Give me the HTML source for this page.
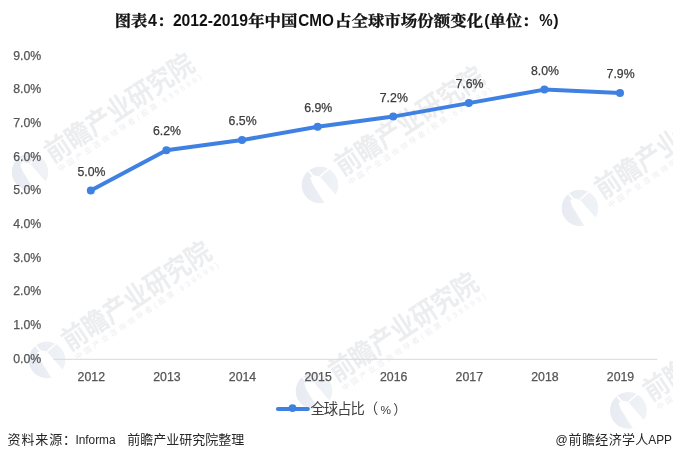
<!DOCTYPE html>
<html><head><meta charset="utf-8"><title>chart</title>
<style>
html,body{margin:0;padding:0;background:#fff;}
body{width:673px;height:460px;overflow:hidden;}
svg{display:block;}
text{font-family:"Liberation Sans","Noto Sans CJK SC",sans-serif;}
.ax{font-size:12.3px;fill:#555;stroke:#555;stroke-width:0.25px;}
.dl{font-size:12.3px;fill:#3c3c3c;stroke:#3c3c3c;stroke-width:0.25px;}
.wm{font-weight:500;fill:#ecedef;stroke:#ecedef;stroke-width:0.5px;font-size:27.5px;}
.wms{fill:#ededf0;font-size:7.5px;}
.tc{font-size:15px;font-weight:bold;fill:#111;stroke:#111;stroke-width:0.3px;font-family:"Liberation Sans","Noto Serif CJK SC",serif;}
.tl{font-size:16px;font-weight:bold;fill:#111;}
.ft{font-size:13px;fill:#262626;}
.fl{font-size:12px;fill:#262626;}
</style></head><body>
<svg width="673" height="460" viewBox="0 0 673 460">
<rect width="673" height="460" fill="#fff"/>
<defs>
<linearGradient id="lg" x1="0" y1="0" x2="1" y2="0"><stop offset="0" stop-color="#e7ebf2"/><stop offset="1" stop-color="#f0f3f6"/></linearGradient>
<clipPath id="lc"><circle cx="0" cy="0" r="18.5"/></clipPath>
</defs>

<g transform="translate(30,172)"><g clip-path="url(#lc)">
<circle cx="0" cy="0" r="18.5" fill="url(#lg)"/>
<polygon points="-11.9,-13.4 -10.5,-14.7 -6.2,-9.8 -0.5,-8.6 1,-7.2 14.8,8.8 24,14 10,26 4.3,17.7 -7.7,-1.4 -9.8,-7.7 -7.7,-8.6" fill="#fff"/>
<line x1="9.6" y1="-16.8" x2="0.2" y2="-8.6" stroke="#fff" stroke-width="1.5"/>
</g>
<g transform="rotate(-33.4)">
<text class="wm" x="23.8" y="5.4" textLength="172" lengthAdjust="spacingAndGlyphs">前瞻产业研究院</text>
<text class="wms" x="25.3" y="16.6" textLength="170" lengthAdjust="spacing">中国产业咨询领导者(股票:839599)</text>
</g></g>
<g transform="translate(320,185)"><g clip-path="url(#lc)">
<circle cx="0" cy="0" r="18.5" fill="url(#lg)"/>
<polygon points="-11.9,-13.4 -10.5,-14.7 -6.2,-9.8 -0.5,-8.6 1,-7.2 14.8,8.8 24,14 10,26 4.3,17.7 -7.7,-1.4 -9.8,-7.7 -7.7,-8.6" fill="#fff"/>
<line x1="9.6" y1="-16.8" x2="0.2" y2="-8.6" stroke="#fff" stroke-width="1.5"/>
</g>
<g transform="rotate(-33.4)">
<text class="wm" x="23.8" y="5.4" textLength="172" lengthAdjust="spacingAndGlyphs">前瞻产业研究院</text>
<text class="wms" x="25.3" y="16.6" textLength="170" lengthAdjust="spacing">中国产业咨询领导者(股票:839599)</text>
</g></g>
<g transform="translate(580,208)"><g clip-path="url(#lc)">
<circle cx="0" cy="0" r="18.5" fill="url(#lg)"/>
<polygon points="-11.9,-13.4 -10.5,-14.7 -6.2,-9.8 -0.5,-8.6 1,-7.2 14.8,8.8 24,14 10,26 4.3,17.7 -7.7,-1.4 -9.8,-7.7 -7.7,-8.6" fill="#fff"/>
<line x1="9.6" y1="-16.8" x2="0.2" y2="-8.6" stroke="#fff" stroke-width="1.5"/>
</g>
<g transform="rotate(-33.4)">
<text class="wm" x="23.8" y="5.4" textLength="172" lengthAdjust="spacingAndGlyphs">前瞻产业研究院</text>
<text class="wms" x="25.3" y="16.6" textLength="170" lengthAdjust="spacing">中国产业咨询领导者(股票:839599)</text>
</g></g>
<g transform="translate(47,360)"><g clip-path="url(#lc)">
<circle cx="0" cy="0" r="18.5" fill="url(#lg)"/>
<polygon points="-11.9,-13.4 -10.5,-14.7 -6.2,-9.8 -0.5,-8.6 1,-7.2 14.8,8.8 24,14 10,26 4.3,17.7 -7.7,-1.4 -9.8,-7.7 -7.7,-8.6" fill="#fff"/>
<line x1="9.6" y1="-16.8" x2="0.2" y2="-8.6" stroke="#fff" stroke-width="1.5"/>
</g>
<g transform="rotate(-33.4)">
<text class="wm" x="23.8" y="5.4" textLength="172" lengthAdjust="spacingAndGlyphs">前瞻产业研究院</text>
<text class="wms" x="25.3" y="16.6" textLength="170" lengthAdjust="spacing">中国产业咨询领导者(股票:839599)</text>
</g></g>
<g transform="translate(314,391)"><g clip-path="url(#lc)">
<circle cx="0" cy="0" r="18.5" fill="url(#lg)"/>
<polygon points="-11.9,-13.4 -10.5,-14.7 -6.2,-9.8 -0.5,-8.6 1,-7.2 14.8,8.8 24,14 10,26 4.3,17.7 -7.7,-1.4 -9.8,-7.7 -7.7,-8.6" fill="#fff"/>
<line x1="9.6" y1="-16.8" x2="0.2" y2="-8.6" stroke="#fff" stroke-width="1.5"/>
</g>
<g transform="rotate(-33.4)">
<text class="wm" x="23.8" y="5.4" textLength="172" lengthAdjust="spacingAndGlyphs">前瞻产业研究院</text>
<text class="wms" x="25.3" y="16.6" textLength="170" lengthAdjust="spacing">中国产业咨询领导者(股票:839599)</text>
</g></g>
<g transform="translate(628.4,410.4)"><g clip-path="url(#lc)">
<circle cx="0" cy="0" r="18.5" fill="url(#lg)"/>
<polygon points="-11.9,-13.4 -10.5,-14.7 -6.2,-9.8 -0.5,-8.6 1,-7.2 14.8,8.8 24,14 10,26 4.3,17.7 -7.7,-1.4 -9.8,-7.7 -7.7,-8.6" fill="#fff"/>
<line x1="9.6" y1="-16.8" x2="0.2" y2="-8.6" stroke="#fff" stroke-width="1.5"/>
</g>
<g transform="rotate(-33.4)">
<text class="wm" x="23.8" y="5.4" textLength="172" lengthAdjust="spacingAndGlyphs">前瞻产业研究院</text>
<text class="wms" x="25.3" y="16.6" textLength="170" lengthAdjust="spacing">中国产业咨询领导者(股票:839599)</text>
</g></g>
<text y="26"><tspan class="tc" x="114.7" textLength="32.6" lengthAdjust="spacingAndGlyphs">图表</tspan><tspan class="tl" x="148">4</tspan><tspan class="tc" x="157.2" textLength="16.1" lengthAdjust="spacingAndGlyphs">：</tspan><tspan class="tl" x="172.9" textLength="75" lengthAdjust="spacingAndGlyphs">2012-2019</tspan><tspan class="tc" x="248.2" textLength="49.1" lengthAdjust="spacingAndGlyphs">年中国</tspan><tspan class="tl" x="298.2" textLength="35.6" lengthAdjust="spacingAndGlyphs">CMO</tspan><tspan class="tc" x="335.0" textLength="148.1" lengthAdjust="spacingAndGlyphs">占全球市场份额变化</tspan><tspan class="tl" x="484.3">(</tspan><tspan class="tc" x="489.4" textLength="49.1" lengthAdjust="spacingAndGlyphs">单位：</tspan><tspan class="tl" x="539.3" textLength="13.4" lengthAdjust="spacingAndGlyphs">%</tspan><tspan class="tl" x="553.3">)</tspan></text>
<line x1="53.5" y1="359.3" x2="657.3" y2="359.3" stroke="#d9d9d9" stroke-width="1"/>
<text class="ax" x="13.2" y="363">0.0%</text>
<text class="ax" x="13.2" y="329">1.0%</text>
<text class="ax" x="13.2" y="295">2.0%</text>
<text class="ax" x="13.2" y="262">3.0%</text>
<text class="ax" x="13.2" y="228">4.0%</text>
<text class="ax" x="13.2" y="194">5.0%</text>
<text class="ax" x="13.2" y="161">6.0%</text>
<text class="ax" x="13.2" y="127">7.0%</text>
<text class="ax" x="13.2" y="93">8.0%</text>
<text class="ax" x="13.2" y="60">9.0%</text>
<text class="ax" x="91.3" y="381" text-anchor="middle">2012</text>
<text class="ax" x="166.9" y="381" text-anchor="middle">2013</text>
<text class="ax" x="242.5" y="381" text-anchor="middle">2014</text>
<text class="ax" x="318.1" y="381" text-anchor="middle">2015</text>
<text class="ax" x="393.7" y="381" text-anchor="middle">2016</text>
<text class="ax" x="469.3" y="381" text-anchor="middle">2017</text>
<text class="ax" x="544.9" y="381" text-anchor="middle">2018</text>
<text class="ax" x="620.5" y="381" text-anchor="middle">2019</text>
<polyline points="90.8,190.6 166.4,150.2 242.0,140.1 317.6,126.7 393.2,116.6 468.8,103.1 544.4,89.6 620.0,93.0" fill="none" stroke="#3f81e2" stroke-width="4" stroke-linejoin="round" stroke-linecap="round"/>
<circle cx="90.8" cy="190.6" r="4" fill="#3f81e2"/>
<text class="dl" x="91.4" y="176" text-anchor="middle">5.0%</text>
<circle cx="166.4" cy="150.2" r="4" fill="#3f81e2"/>
<text class="dl" x="167.0" y="135" text-anchor="middle">6.2%</text>
<circle cx="242.0" cy="140.1" r="4" fill="#3f81e2"/>
<text class="dl" x="242.6" y="125" text-anchor="middle">6.5%</text>
<circle cx="317.6" cy="126.7" r="4" fill="#3f81e2"/>
<text class="dl" x="318.2" y="112" text-anchor="middle">6.9%</text>
<circle cx="393.2" cy="116.6" r="4" fill="#3f81e2"/>
<text class="dl" x="393.8" y="102" text-anchor="middle">7.2%</text>
<circle cx="468.8" cy="103.1" r="4" fill="#3f81e2"/>
<text class="dl" x="469.4" y="88" text-anchor="middle">7.6%</text>
<circle cx="544.4" cy="89.6" r="4" fill="#3f81e2"/>
<text class="dl" x="545.0" y="75" text-anchor="middle">8.0%</text>
<circle cx="620.0" cy="93.0" r="4" fill="#3f81e2"/>
<text class="dl" x="620.6" y="78" text-anchor="middle">7.9%</text>
<line x1="277.9" y1="409" x2="307.9" y2="409" stroke="#3f81e2" stroke-width="4" stroke-linecap="round"/>
<circle cx="292.5" cy="408.1" r="3.9" fill="#3f81e2"/>
<text y="413.8" fill="#404040"><tspan x="310.4" font-size="14.3" letter-spacing="-0.9">全球占比（</tspan><tspan x="380.6" font-size="11.8">%</tspan><tspan x="393.2" font-size="13.4">）</tspan></text>
<text y="444"><tspan class="ft" x="7.5" letter-spacing="0.9">资料来源</tspan><tspan class="ft" x="63.1">：</tspan><tspan class="fl" x="75.4" textLength="40.2" lengthAdjust="spacingAndGlyphs">Informa</tspan><tspan class="ft" x="127.3">前瞻产业研究院整理</tspan></text>
<text y="444"><tspan class="fl" x="555.6">@</tspan><tspan class="ft" x="568.6" letter-spacing="0.35">前瞻经济学人</tspan><tspan class="fl" x="648.3" textLength="23.7" lengthAdjust="spacingAndGlyphs">APP</tspan></text>
</svg></body></html>
